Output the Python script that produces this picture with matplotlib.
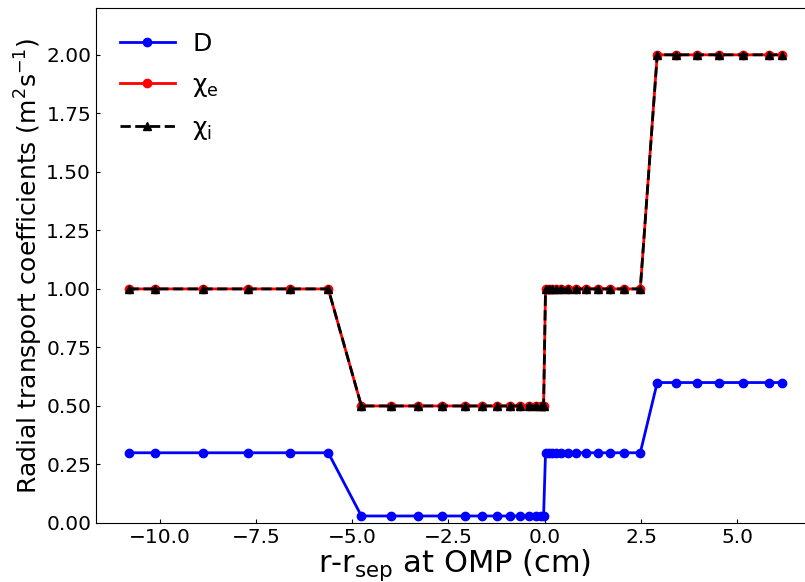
import matplotlib
matplotlib.use("Agg")
import matplotlib.pyplot as plt

plt.rcParams['mathtext.default'] = 'regular'

# radial position relative to the separatrix at the outer midplane (cm)
r_omp = [-10.80, -10.13, -8.86, -7.70, -6.61, -5.62,
         -4.76, -3.98, -3.28, -2.66, -2.08, -1.64, -1.23, -0.89, -0.63,
         -0.42, -0.24, -0.11, -0.03,
         0.02, 0.10, 0.19, 0.30, 0.42, 0.60, 0.82, 1.08, 1.37, 1.70,
         2.07, 2.48,
         2.92, 3.42, 3.96, 4.53, 5.14, 5.81, 6.15]

# transport coefficients (m^2 s^-1)
D_vals = [0.3] * 6 + [0.03] * 13 + [0.3] * 12 + [0.6] * 7
chi_e = [1.0] * 6 + [0.5] * 13 + [1.0] * 12 + [2.0] * 7
chi_i = [1.0] * 6 + [0.5] * 13 + [1.0] * 12 + [2.0] * 7

fig = plt.figure(figsize=(8.05, 5.82), dpi=100)
ax = fig.add_axes([96 / 805, 59 / 582, (814 - 96) / 805, (523 - 8) / 582])

ax.plot(r_omp, D_vals, '-o', color='blue', lw=2, ms=6, label='D')
ax.plot(r_omp, chi_e, '-o', color='red', lw=2, ms=6, label=r'$\chi_e$')
ax.plot(r_omp, chi_i, '--^', color='black', lw=2, ms=6, label=r'$\chi_i$')

ax.set_xlim(-11.65, 6.99)
ax.set_ylim(0, 2.2)
ax.set_xticks([-10.0, -7.5, -5.0, -2.5, 0.0, 2.5, 5.0])
ax.set_yticks([0.0, 0.25, 0.5, 0.75, 1.0, 1.25, 1.5, 1.75, 2.0])
ax.tick_params(direction='in', labelsize=14.5, length=3)

ax.set_xlabel(r'r-r$_{sep}$ at OMP (cm)', fontsize=22, labelpad=0)
ax.set_ylabel(r'Radial transport coefficients (m$^2$s$^{-1}$)', fontsize=18,
              labelpad=1)

ax.legend(loc='upper left', frameon=False, fontsize=18, handlelength=2.2,
          labelspacing=0.68, borderaxespad=0.55, handletextpad=0.7)

fig.savefig('out.png', dpi=100)
